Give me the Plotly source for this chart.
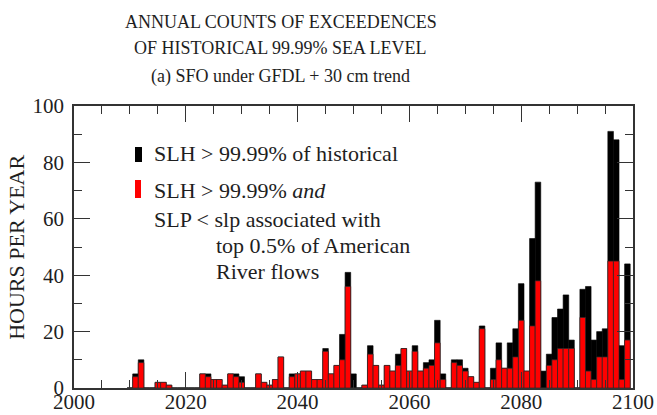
import plotly.graph_objects as go

# ---------------- data ----------------
years = list(range(2010, 2100))

# SLH > 99.99% of historical (total hours per year)
slh_total = [
    0, 5, 10, 0, 0, 2, 2, 1, 0, 0,          # 2010-2019
    0, 0, 0, 5, 5, 3, 3, 1, 5, 5,           # 2020-2029
    4, 0, 0, 5, 2, 1, 3, 11, 0, 5,          # 2030-2039
    5, 6, 6, 3, 3, 14, 5, 8, 19, 41,        # 2040-2049
    5, 0, 1, 15, 8, 1, 8, 6, 12, 14,        # 2050-2059
    6, 15, 6, 9, 10, 24, 5, 0, 10, 10,      # 2060-2069
    7, 4, 2, 22, 0, 7, 16, 7, 16, 21,       # 2070-2079
    37, 6, 53, 73, 6, 12, 25, 28, 33, 17,   # 2080-2089
    0, 35, 36, 17, 20, 21, 91, 88, 15, 44,  # 2090-2099
]

# SLH > 99.99% and SLP < slp associated with top 0.5% of American River flows
slh_and_slp = [
    0, 4, 9, 0, 0, 2, 2, 1, 0, 0,
    0, 0, 0, 5, 4, 3, 3, 1, 5, 4,
    2, 0, 0, 5, 2, 1, 3, 11, 0, 4,
    5, 6, 6, 3, 3, 13, 5, 8, 10, 36,
    0, 0, 1, 12, 8, 1, 8, 6, 8, 14,
    6, 13, 6, 7, 8, 16, 3, 0, 9, 8,
    6, 4, 2, 21, 0, 3, 10, 7, 7, 11,
    24, 6, 22, 38, 0, 8, 10, 14, 14, 14,
    0, 25, 6, 3, 11, 11, 45, 45, 3, 17,
]

x_tick_vals = [2000, 2020, 2040, 2060, 2080, 2100]
y_tick_vals = [0, 20, 40, 60, 80, 100]

title_lines = [
    "ANNUAL COUNTS OF EXCEEDENCES",
    "OF HISTORICAL 99.99% SEA LEVEL",
    "(a) SFO under GFDL + 30 cm trend",
]
legend_lines = [
    "SLH &gt; 99.99% of historical",
    "SLH &gt; 99.99% <i>and</i>",
    "SLP &lt; slp associated with",
    "top 0.5% of American",
    "River flows",
]
y_title = "HOURS PER YEAR"

# ---------------- style ----------------
SERIF = "Liberation Serif, Times New Roman, serif"
INK = "#1e1e1e"
AX = "#333333"
RED = "#ff0000"

fig = go.Figure()
fig.add_trace(go.Bar(
    x=years, y=slh_total, width=1,
    marker=dict(color="#000000", line=dict(color="#000000", width=0.6)),
    name=legend_lines[0],
))
fig.add_trace(go.Bar(
    x=years, y=slh_and_slp, width=1,
    marker=dict(color=RED, line=dict(color="#2a2a2a", width=0.7)),
    name=legend_lines[1],
))

fig.update_layout(
    barmode="overlay",
    width=657, height=415,
    margin=dict(l=74, r=24, t=106, b=27, autoexpand=False),
    plot_bgcolor="white", paper_bgcolor="white",
    showlegend=False,
    font=dict(family=SERIF, color=INK),
)

fig.update_xaxes(
    range=[2000, 2100], tickmode="array", tickvals=x_tick_vals,
    ticks="inside", ticklen=16, tickwidth=1.3, tickcolor=AX,
    showline=True, linecolor=AX, linewidth=1.5, mirror="ticks",
    showgrid=False, zeroline=False, automargin=False,
    tickfont=dict(size=21, family=SERIF, color=INK),
    ticklabelstandoff=-6,
    minor=dict(tickmode="linear", tick0=2000, dtick=5, ticks="inside",
               ticklen=8, tickwidth=1.3, tickcolor=AX, showgrid=False),
)
fig.update_yaxes(
    range=[0, 100], tickmode="array", tickvals=y_tick_vals,
    ticks="inside", ticklen=16, tickwidth=1.3, tickcolor=AX,
    showline=True, linecolor=AX, linewidth=1.5, mirror="ticks",
    showgrid=False, zeroline=False, automargin=False,
    tickfont=dict(size=21, family=SERIF, color=INK),
    ticklabelstandoff=4,
    minor=dict(tickmode="linear", tick0=0, dtick=10, ticks="inside",
               ticklen=8, tickwidth=1.3, tickcolor=AX, showgrid=False),
)

annotations = []
# titles
for txt, yy in zip(title_lines, [1.299, 1.207, 1.104]):
    annotations.append(dict(text=txt, x=0.370, y=yy, xref="paper", yref="paper",
                            xanchor="center", yanchor="middle", showarrow=False,
                            font=dict(size=18, family=SERIF, color=INK)))
# y title
annotations.append(dict(text=y_title, x=-0.104, y=0.5, xref="paper", yref="paper",
                        xanchor="center", yanchor="middle", showarrow=False, textangle=-90,
                        font=dict(size=22, family=SERIF, color=INK)))
# legend text
leg_pos = [(0.1395, 0.830), (0.1395, 0.699), (0.1395, 0.599), (0.2504, 0.507), (0.2504, 0.413)]
for txt, (xx, yy) in zip(legend_lines, leg_pos):
    annotations.append(dict(text=txt, x=xx, y=yy, xref="paper", yref="paper",
                            xanchor="left", yanchor="middle", showarrow=False,
                            font=dict(size=22, family=SERIF, color=INK)))
fig.update_layout(annotations=annotations)

# legend swatches
fig.add_shape(type="rect", xref="paper", yref="paper",
              x0=0.1091, x1=0.1216, y0=0.8014, y1=0.8546,
              fillcolor="#000000", line=dict(width=0))
fig.add_shape(type="rect", xref="paper", yref="paper",
              x0=0.1091, x1=0.1199, y0=0.6738, y1=0.7376,
              fillcolor=RED, line=dict(width=0))

fig.write_html("out.html")
